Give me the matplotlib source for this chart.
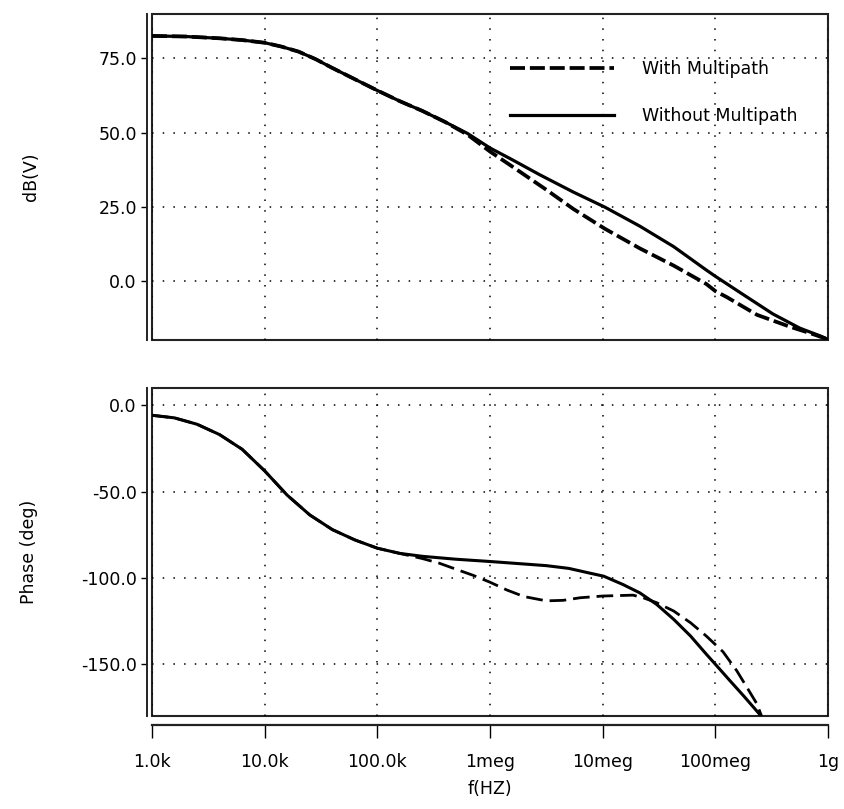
import numpy as np
import matplotlib
matplotlib.use("Agg")
import matplotlib.pyplot as plt
from matplotlib.ticker import NullLocator

plt.rcParams['font.family'] = ['DejaVu Sans']
plt.rcParams['font.size'] = 12.5

# ---------------- data ----------------
mag_freq_without = [1.0e3, 2.0e3, 3.98e3, 6.31e3, 1.0e4, 1.41e4, 2.0e4, 2.82e4, 3.98e4,
                    6.31e4, 1.0e5, 1.58e5, 2.51e5, 3.98e5, 6.31e5, 1.0e6, 1.58e6, 2.75e6,
                    5.5e6, 1.05e7, 2.14e7, 4.27e7, 8.32e7, 1.0e8, 1.66e8, 3.24e8, 5.62e8,
                    8.51e8, 1.0e9]
mag_without = [82.6, 82.4, 81.8, 81.2, 80.3, 79.0, 77.3, 74.8, 71.8,
               68.0, 64.2, 60.6, 57.3, 53.6, 49.7, 44.8, 40.8, 35.8,
               29.9, 24.8, 18.4, 11.5, 3.6, 1.5, -4.0, -11.2, -16.0,
               -18.6, -19.8]

mag_freq_with = [1.0e3, 2.0e3, 3.98e3, 6.31e3, 1.0e4, 1.41e4, 2.0e4, 2.82e4, 3.98e4,
                 6.31e4, 1.0e5, 1.58e5, 2.51e5, 3.98e5, 6.31e5, 1.0e6, 1.58e6, 3.16e6,
                 5.5e6, 1.05e7, 2.14e7, 4.27e7, 8.32e7, 1.0e8, 1.26e8, 2.34e8, 4.57e8,
                 7.08e8, 1.0e9]
mag_with = [82.6, 82.4, 81.8, 81.2, 80.3, 79.0, 77.3, 74.8, 71.8,
            68.0, 64.2, 60.6, 57.3, 53.6, 49.3, 43.6, 38.5, 30.7,
            24.2, 17.5, 10.9, 5.1, -1.1, -3.5, -5.5, -11.5, -15.5,
            -17.8, -19.8]

ph_freq_without = [1.0e3, 1.58e3, 2.51e3, 3.98e3, 6.31e3, 1.0e4, 1.58e4, 2.51e4, 3.98e4,
                   6.31e4, 1.0e5, 1.58e5, 2.51e5, 5.01e5, 1.0e6, 3.16e6, 5.01e6, 7.76e6,
                   1.02e7, 1.51e7, 2.14e7, 3.02e7, 4.27e7, 6.03e7, 8.32e7, 1.0e8, 1.35e8,
                   1.78e8, 2.51e8]
ph_without = [-5.8, -7.3, -11.0, -17.0, -25.5, -38.0, -52.0, -63.5, -72.0,
              -78.0, -82.8, -85.8, -87.5, -89.2, -90.5, -92.9, -94.5, -97.3,
              -99.0, -103.8, -108.7, -115.4, -124.0, -133.7, -144.2, -150.0, -159.6,
              -168.3, -179.5]

ph_freq_with = [1.0e3, 1.58e3, 2.51e3, 3.98e3, 6.31e3, 1.0e4, 1.58e4, 2.51e4, 3.98e4,
                6.31e4, 1.0e5, 1.58e5, 2.51e5, 3.55e5, 5.25e5, 7.08e5, 1.0e6, 1.41e6,
                2.0e6, 3.16e6, 4.47e6, 6.31e6, 1.0e7, 1.86e7, 2.29e7, 3.02e7, 4.27e7,
                6.03e7, 8.32e7, 1.17e8, 1.55e8, 1.91e8, 2.34e8, 2.57e8]
ph_with = [-5.8, -7.3, -11.0, -17.0, -25.5, -38.0, -52.0, -63.5, -72.0,
           -78.0, -82.8, -85.8, -88.8, -91.5, -95.5, -98.5, -102.5, -107.0,
           -110.8, -113.3, -113.0, -111.5, -110.5, -110.0, -111.5, -114.4, -119.2,
           -126.0, -133.7, -142.8, -153.8, -163.5, -173.0, -180.0]

x_ticks = [1e3, 1e4, 1e5, 1e6, 1e7, 1e8, 1e9]
x_tick_labels = ["1.0k", "10.0k", "100.0k", "1meg", "10meg", "100meg", "1g"]
mag_ticks = [0, 25, 50, 75]
mag_tick_labels = ["0.0", "25.0", "50.0", "75.0"]
ph_ticks = [-150, -100, -50, 0]
ph_tick_labels = ["-150.0", "-100.0", "-50.0", "0.0"]

# ---------------- figure ----------------
W, H = 844, 809
fig = plt.figure(figsize=(W / 100, H / 100), dpi=100)

L, R = 152, 828
ax1 = fig.add_axes([L / W, 1 - 340 / H, (R - L) / W, (340 - 14) / H])
ax2 = fig.add_axes([L / W, 1 - 716 / H, (R - L) / W, (716 - 388) / H])

grid_kw = dict(color='k', linestyle=(0, (1, 6)), linewidth=1.1)

for ax in (ax1, ax2):
    ax.set_xscale('log')
    ax.set_xlim(1e3, 1e9)
    ax.xaxis.set_minor_locator(NullLocator())
    ax.set_xticks(x_ticks)
    ax.patch.set_edgecolor('#222222')
    ax.patch.set_linewidth(1.5)
    for s in ('top', 'right', 'bottom'):
        ax.spines[s].set_visible(False)
    ax.spines['left'].set_position(('outward', 3.6))
    ax.spines['left'].set_linewidth(1.4)
    ax.spines['left'].set_color('#222222')
    ax.tick_params(axis='y', direction='out', length=4.3, width=1.0, pad=3)
    ax.grid(True, which='major', **grid_kw)

# top panel
ax1.plot(mag_freq_without, mag_without, color='k', lw=2.3,
         label='Without Multipath')
ax1.plot(mag_freq_with, mag_with, color='k', lw=2.7, linestyle=(0, (4, 1.3)),
         label='With Multipath')
ax1.set_ylim(-20, 90)
ax1.set_yticks(mag_ticks)
ax1.set_yticklabels(mag_tick_labels)
ax1.tick_params(axis='x', bottom=False, labelbottom=False)
ax1.set_ylabel('dB(V)')
ax1.yaxis.set_label_coords(-0.165, 0.5)

h, l = ax1.get_legend_handles_labels()
ax1.legend([h[1], h[0]], [l[1], l[0]], loc='upper left', bbox_to_anchor=(0.53, 0.858),
           frameon=False, borderaxespad=0, borderpad=0, handlelength=6.0,
           handletextpad=1.6, labelspacing=1.65)

# bottom panel
ax2.plot(ph_freq_without, ph_without, color='k', lw=2.2)
ax2.plot(ph_freq_with, ph_with, color='k', lw=2.0, linestyle=(0, (6, 2.5)))
ax2.set_ylim(-180, 10)
ax2.set_yticks(ph_ticks)
ax2.set_yticklabels(ph_tick_labels)
ax2.set_ylabel('Phase (deg)')
ax2.yaxis.set_label_coords(-0.169, 0.5)

ax2.spines['bottom'].set_visible(True)
ax2.spines['bottom'].set_position(('outward', 6.5))
ax2.spines['bottom'].set_linewidth(1.6)
ax2.spines['bottom'].set_color('#222222')
ax2.set_xticklabels(x_tick_labels)
ax2.tick_params(axis='x', direction='out', length=9.4, width=1.0, pad=11)
ax2.set_xlabel('f(HZ)')
ax2.xaxis.set_label_coords(0.5, -0.195)

fig.savefig('out.png', dpi=100)
